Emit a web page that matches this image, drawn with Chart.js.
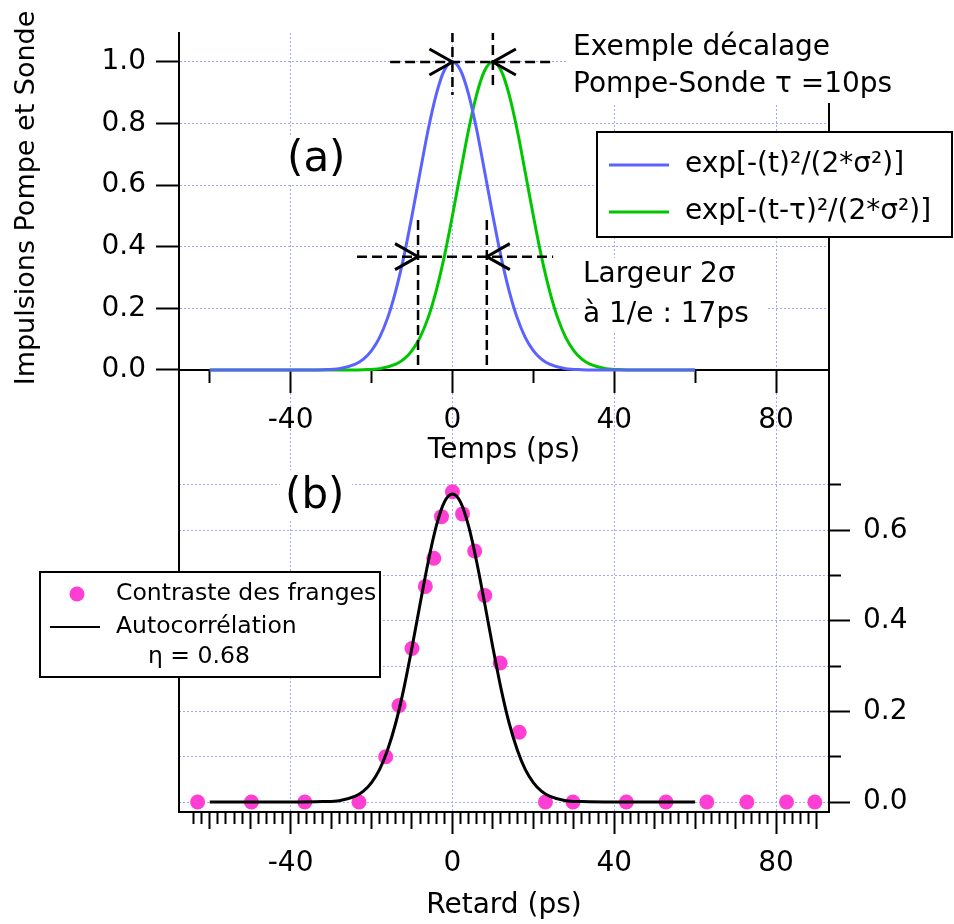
<!DOCTYPE html>
<html>
<head>
<meta charset="utf-8">
<script src="https://cdn.jsdelivr.net/npm/chart.js@4.4.1/dist/chart.umd.min.js"></script>
<style>
  html, body { margin: 0; padding: 0; background: #fff; }
  #wrap { position: relative; width: 954px; height: 924px; }
</style>
</head>
<body>
<div id="wrap"><canvas id="pulses" width="954" height="924"></canvas></div>
<script>
// (a) pump pulse, probe pulse delayed by tau = 10 ps
const pumpT = [-60, -40, -32, -28, -24, -22, -20, -18, -16, -14, -12, -10, -8, -6, -4, -2, 0,
  2, 4, 6, 8, 10, 12, 14, 16, 18, 20, 22, 24, 28, 32, 40, 60];
const pumpY = [0, 0, 0.001, 0.004, 0.019, 0.035, 0.063, 0.106, 0.170, 0.258, 0.369, 0.501, 0.642, 0.780, 0.895, 0.973, 1.000,
  0.973, 0.895, 0.780, 0.642, 0.501, 0.369, 0.258, 0.170, 0.106, 0.063, 0.035, 0.019, 0.004, 0.001, 0, 0];
const probeT = [-60, -30, -22, -18, -14, -12, -10, -8, -6, -4, -2, 0, 2, 4, 6, 8, 10,
  12, 14, 16, 18, 20, 22, 24, 26, 28, 30, 32, 34, 38, 42, 50, 60];
const probeY = [0, 0, 0.001, 0.004, 0.019, 0.035, 0.063, 0.106, 0.170, 0.258, 0.369, 0.501, 0.642, 0.780, 0.895, 0.973, 1.000,
  0.973, 0.895, 0.780, 0.642, 0.501, 0.369, 0.258, 0.170, 0.106, 0.063, 0.035, 0.019, 0.004, 0.001, 0, 0];

// (b) autocorrelation fit and measured fringe contrast
const fitT = [-60, -40, -32, -28, -24, -22, -20, -18, -16, -14, -12, -10, -8, -6, -4, -2, 0,
  2, 4, 6, 8, 10, 12, 14, 16, 18, 20, 22, 24, 28, 32, 40, 60];
const fitY = [0, 0, 0.001, 0.003, 0.013, 0.024, 0.043, 0.072, 0.116, 0.175, 0.251, 0.341, 0.437, 0.530, 0.609, 0.662, 0.680,
  0.662, 0.609, 0.530, 0.437, 0.341, 0.251, 0.175, 0.116, 0.072, 0.043, 0.024, 0.013, 0.003, 0.001, 0, 0];
const delays = [-63, -49.7, -36.5, -23.1, -16.5, -13.2, -10, -6.7, -4.6, -2.7, 0, 2.5,
  5.5, 8, 11.8, 16.5, 23, 29.8, 43, 52.8, 62.9, 72.8, 82.6, 89.6];
const contrast = [0, 0, 0, 0, 0.100, 0.213, 0.339, 0.476, 0.538, 0.630, 0.685, 0.636,
  0.554, 0.456, 0.307, 0.154, 0, 0, 0, 0, 0, 0, 0, 0];

// guide lines (data units of panel a)
const peakLine = [[-15.4, 1], [25.4, 1]];
const peakMarkPump = [[0, 1.097], [0, 0.893]];
const peakMarkProbe = [[10, 1.104], [10, 0.909]];
const widthLine = [[-23.6, 0.368], [24.9, 0.368]];
const widthMarkL = [[-8.5, 0.487], [-8.5, 0]];
const widthMarkR = [[8.5, 0.487], [8.5, 0]];
const arrowTips = [[0, 1, 1], [10, 1, -1], [-8.5, 0.368, 1], [8.5, 0.368, -1]];

// ticks
const tempsTicks = [-60, -40, -20, 0, 20, 40, 60, 80];
const tempsLabels = [-40, 0, 40, 80];
const retardTicks = Array.from({ length: 78 }, (_, i) => -64 + 2 * i);
const retardLabels = [-40, 0, 40, 80];
const pulseTicks = [0, 0.2, 0.4, 0.6, 0.8, 1.0];
const contrastTicks = [0, 0.1, 0.2, 0.3, 0.4, 0.5, 0.6, 0.7];

const FONT = "'DejaVu Sans', sans-serif";
const INK = '#000';
const GRID = '#a3a6ff';
const BLUE = '#5a62ff';
const GREEN = '#00c600';
const PINK = '#ff3fd4';

const xy = (xs, ys) => xs.map((x, i) => ({ x, y: ys[i] }));
const pts = arr => arr.map(p => ({ x: p[0], y: p[1] }));

const guide = data => ({
  data: pts(data), yAxisID: 'y', borderColor: INK, borderWidth: 2.5,
  borderDash: [10, 5], pointRadius: 0, tension: 0,
});

const overlay = {
  id: 'overlay',
  afterDatasetsDraw(chart) {
    const { ctx } = chart;
    const xs = chart.scales.x, ys = chart.scales.y;
    ctx.save();
    ctx.strokeStyle = INK;
    ctx.lineWidth = 3;
    arrowTips.forEach(([x, y, dir]) => {
      const px = xs.getPixelForValue(x), py = ys.getPixelForValue(y);
      ctx.beginPath();
      ctx.moveTo(px - dir * 23, py - 13);
      ctx.lineTo(px, py);
      ctx.lineTo(px - dir * 23, py + 13);
      ctx.stroke();
    });
    ctx.restore();
  },
  afterDraw(chart) {
    const { ctx } = chart;
    const ds = chart.data.datasets;
    ctx.save();
    ctx.textBaseline = 'middle';
    ctx.fillStyle = INK;

    const whiteBox = (x, y, w, h, frame) => {
      ctx.fillStyle = '#fff';
      ctx.fillRect(x, y, w, h);
      if (frame) {
        ctx.strokeStyle = INK;
        ctx.lineWidth = 2;
        ctx.strokeRect(x, y, w, h);
      }
      ctx.fillStyle = INK;
    };

    // y title
    ctx.save();
    ctx.translate(27, 198);
    ctx.rotate(-Math.PI / 2);
    ctx.textAlign = 'center';
    ctx.font = `27px ${FONT}`;
    ctx.fillText('Impulsions Pompe et Sonde', 0, 0);
    ctx.restore();

    ctx.textAlign = 'left';
    // panel tags
    ctx.font = `42px ${FONT}`;
    whiteBox(281, 136, 70, 47);
    ctx.fillText('(a)', 287, 160);
    whiteBox(280, 470, 72, 50);
    ctx.fillText('(b)', 285, 497);

    // annotations
    ctx.font = `28px ${FONT}`;
    whiteBox(568, 26, 330, 77);
    ctx.fillText('Exemple décalage', 573, 48);
    ctx.fillText('Pompe-Sonde τ =10ps', 573, 85);
    whiteBox(578, 258, 190, 74);
    ctx.fillText('Largeur 2σ', 583, 275);
    ctx.fillText('à 1/e : 17ps', 583, 315);

    // legend (a)
    whiteBox(597, 132, 355, 105, true);
    ctx.lineWidth = 3;
    [[ds[6], 165], [ds[7], 212]].forEach(([d, y]) => {
      ctx.strokeStyle = d.borderColor;
      ctx.beginPath(); ctx.moveTo(609, y); ctx.lineTo(669, y); ctx.stroke();
    });
    ctx.font = `28px ${FONT}`;
    ctx.fillText(ds[6].label, 685, 165);
    ctx.fillText(ds[7].label, 685, 212);

    // legend (b)
    whiteBox(40, 572, 340, 105, true);
    ctx.fillStyle = ds[9].backgroundColor;
    ctx.beginPath(); ctx.arc(77, 594, 7.5, 0, Math.PI * 2); ctx.fill();
    ctx.strokeStyle = ds[8].borderColor;
    ctx.lineWidth = 2;
    ctx.beginPath(); ctx.moveTo(50, 627); ctx.lineTo(100, 627); ctx.stroke();
    ctx.fillStyle = INK;
    ctx.font = `23.5px ${FONT}`;
    ctx.fillText(ds[9].label, 116, 594);
    ctx.fillText(ds[8].label, 116, 627);
    ctx.fillText('η = 0.68', 148, 657);
    ctx.restore();
  },
};

const ctx = document.getElementById('pulses').getContext('2d');
const tickFont = { family: FONT, size: 28 };

new Chart(ctx, {
  type: 'line',
  data: {
    datasets: [
      guide(peakLine), guide(peakMarkPump), guide(peakMarkProbe),
      guide(widthLine), guide(widthMarkL), guide(widthMarkR),
      {
        label: 'exp[-(t)²/(2*σ²)]', data: xy(pumpT, pumpY), yAxisID: 'y',
        borderColor: BLUE, borderWidth: 3, pointRadius: 0, cubicInterpolationMode: 'monotone',
      },
      {
        label: 'exp[-(t-τ)²/(2*σ²)]', data: xy(probeT, probeY), yAxisID: 'y',
        borderColor: GREEN, borderWidth: 3, pointRadius: 0, cubicInterpolationMode: 'monotone',
      },
      {
        label: 'Autocorrélation', data: xy(fitT, fitY), yAxisID: 'y2',
        borderColor: INK, borderWidth: 3, pointRadius: 0, cubicInterpolationMode: 'monotone',
      },
      {
        label: 'Contraste des franges', data: xy(delays, contrast), yAxisID: 'y2',
        showLine: false, pointRadius: 7.5, pointBorderWidth: 0,
        backgroundColor: PINK, borderColor: PINK,
      },
    ],
  },
  options: {
    responsive: false,
    animation: false,
    events: [],
    layout: { padding: { top: 33, left: 0, right: 0, bottom: 0 } },
    plugins: { legend: { display: false }, tooltip: { enabled: false } },
    scales: {
      x: {
        type: 'linear', position: 'bottom', min: -67.6, max: 93.1,
        afterBuildTicks: s => { s.ticks = retardTicks.map(v => ({ value: v })); },
        afterFit: s => { s.height = 112; },
        ticks: {
          autoSkip: false, maxRotation: 0, padding: 13, color: INK, font: tickFont,
          callback: v => (retardLabels.includes(v) ? String(v) : ''),
        },
        grid: {
          color: c => (c.tick && retardLabels.includes(c.tick.value) ? GRID : 'rgba(0,0,0,0)'),
          lineWidth: 1, tickColor: INK, tickWidth: 2, tickLength: 22,
          tickBorderDash: c => {
            const v = c.tick ? c.tick.value : 0;
            if (v % 40 === 0) return [];
            return v % 10 === 0 ? [16, 40] : [11, 40];
          },
        },
        border: { color: INK, width: 2, dash: [2, 2] },
        title: {
          display: true, text: 'Retard (ps)', color: INK, font: tickFont,
          padding: { top: 0, bottom: 1 },
        },
      },
      xTop: {
        type: 'linear', axis: 'x', position: { y: 0 }, min: -67.6, max: 93.1,
        afterBuildTicks: s => { s.ticks = tempsTicks.map(v => ({ value: v })); },
        afterFit: s => { s.height = 98; },
        ticks: {
          autoSkip: false, maxRotation: 0, padding: 12, color: INK, font: tickFont,
          callback: v => (tempsLabels.includes(v) ? String(v) : ''),
        },
        grid: {
          drawOnChartArea: false, tickColor: INK, tickWidth: 2, tickLength: 22,
          tickBorderDash: c => (c.tick && tempsLabels.includes(c.tick.value) ? [] : [12, 40]),
        },
        border: { color: INK, width: 2 },
        title: {
          display: true, text: 'Temps (ps)', color: INK, font: tickFont,
          padding: { top: 0, bottom: 0 },
        },
      },
      y: {
        type: 'linear', position: 'left', min: -1.435, max: 1.094,
        afterBuildTicks: s => { s.ticks = pulseTicks.map(v => ({ value: v })); },
        afterFit: s => { s.width = 179; },
        ticks: { padding: 10, color: INK, font: tickFont, callback: v => v.toFixed(1) },
        grid: { color: GRID, lineWidth: 1, tickColor: INK, tickWidth: 2, tickLength: 23 },
        border: { color: INK, width: 2, dash: [2, 2] },
      },
      y2: {
        type: 'linear', position: 'right', min: -0.022, max: 1.6976,
        afterBuildTicks: s => { s.ticks = contrastTicks.map(v => ({ value: v })); },
        afterFit: s => { s.width = 125; },
        ticks: {
          padding: 13, color: INK, font: tickFont,
          callback: (v, i) => (i % 2 === 0 ? v.toFixed(1) : ''),
        },
        grid: {
          color: GRID, lineWidth: 1, tickColor: INK, tickWidth: 2, tickLength: 21,
          tickBorderDash: c => (c.index % 2 === 0 ? [] : [11, 40]),
        },
        border: { color: INK, width: 2, dash: [2, 2] },
      },
    },
  },
  plugins: [overlay],
});
</script>
</body>
</html>
